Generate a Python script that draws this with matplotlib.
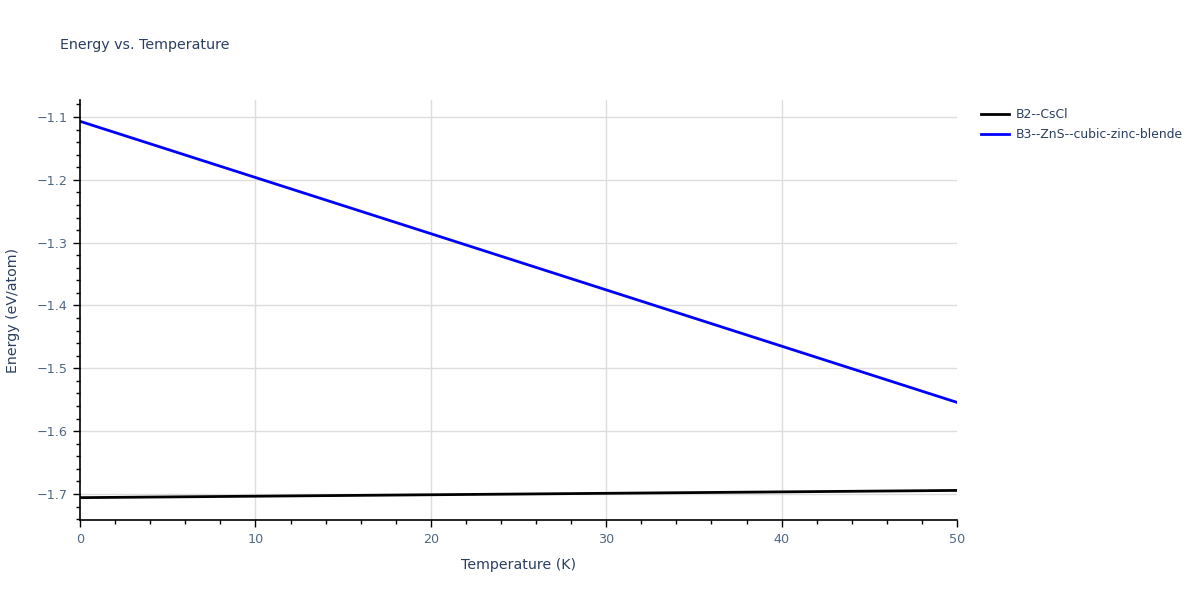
import matplotlib
matplotlib.use("Agg")
import matplotlib.pyplot as plt
from matplotlib.ticker import MultipleLocator, FuncFormatter

plt.rcParams['font.family'] = ['DejaVu Sans']

# values
temperature = [0, 10, 20, 30, 40, 50]
b2_cscl = [-1.7058, -1.7035, -1.7012, -1.6989, -1.6966, -1.6943]
b3_zns = [-1.1069, -1.1963, -1.2857, -1.3752, -1.4647, -1.5542]

text_col = '#2a3f5f'
tick_col = '#506784'

fig = plt.figure(figsize=(12, 6), dpi=100)
ax = fig.add_axes([0.0667, 0.1333, 0.7308, 0.7])

ax.plot(temperature, b2_cscl, color='black', lw=2, label='B2--CsCl')
ax.plot(temperature, b3_zns, color='blue', lw=2, label='B3--ZnS--cubic-zinc-blende')

ax.set_xlim(0, 50)
ax.set_ylim(-1.7414, -1.0730)
ax.xaxis.set_major_locator(MultipleLocator(10))
ax.xaxis.set_minor_locator(MultipleLocator(2))
ax.yaxis.set_major_locator(MultipleLocator(0.1))
ax.yaxis.set_minor_locator(MultipleLocator(0.02))
ax.yaxis.set_major_formatter(FuncFormatter(lambda v, p: f'{v:.1f}'.replace('-', '\u2212')))

# grid: horizontal from ticks, vertical only at inner ticks (none on right edge)
ax.yaxis.grid(True, which='major', color='#dddddd', lw=1)
for xt in temperature[1:-1]:
    ax.axvline(xt, color='#dddddd', lw=1, zorder=0)
ax.set_axisbelow(True)

for s in ['top', 'right']:
    ax.spines[s].set_visible(False)
for s in ['left', 'bottom']:
    ax.spines[s].set_color('black')
    ax.spines[s].set_linewidth(1.2)

ax.tick_params(which='major', direction='out', length=5, width=1, colors='black',
               labelcolor=tick_col, labelsize=9.2, pad=4)
ax.tick_params(which='minor', direction='out', length=3, width=1, colors='black')

ax.set_xlabel('Temperature (K)', color=text_col, fontsize=10.2, labelpad=9)
ax.set_ylabel('Energy (eV/atom)', color=text_col, fontsize=10.2, labelpad=12)
fig.text(0.05, 0.925, 'Energy vs. Temperature', color=text_col, fontsize=10.3, va='center')

ax.legend(loc='upper left', bbox_to_anchor=(0.8175, 0.82), bbox_transform=fig.transFigure,
          frameon=False, fontsize=8.9, labelcolor=text_col, handlelength=2.3,
          handletextpad=0.5, labelspacing=0.6, borderaxespad=0, borderpad=0)

fig.savefig('out.png', dpi=100)
